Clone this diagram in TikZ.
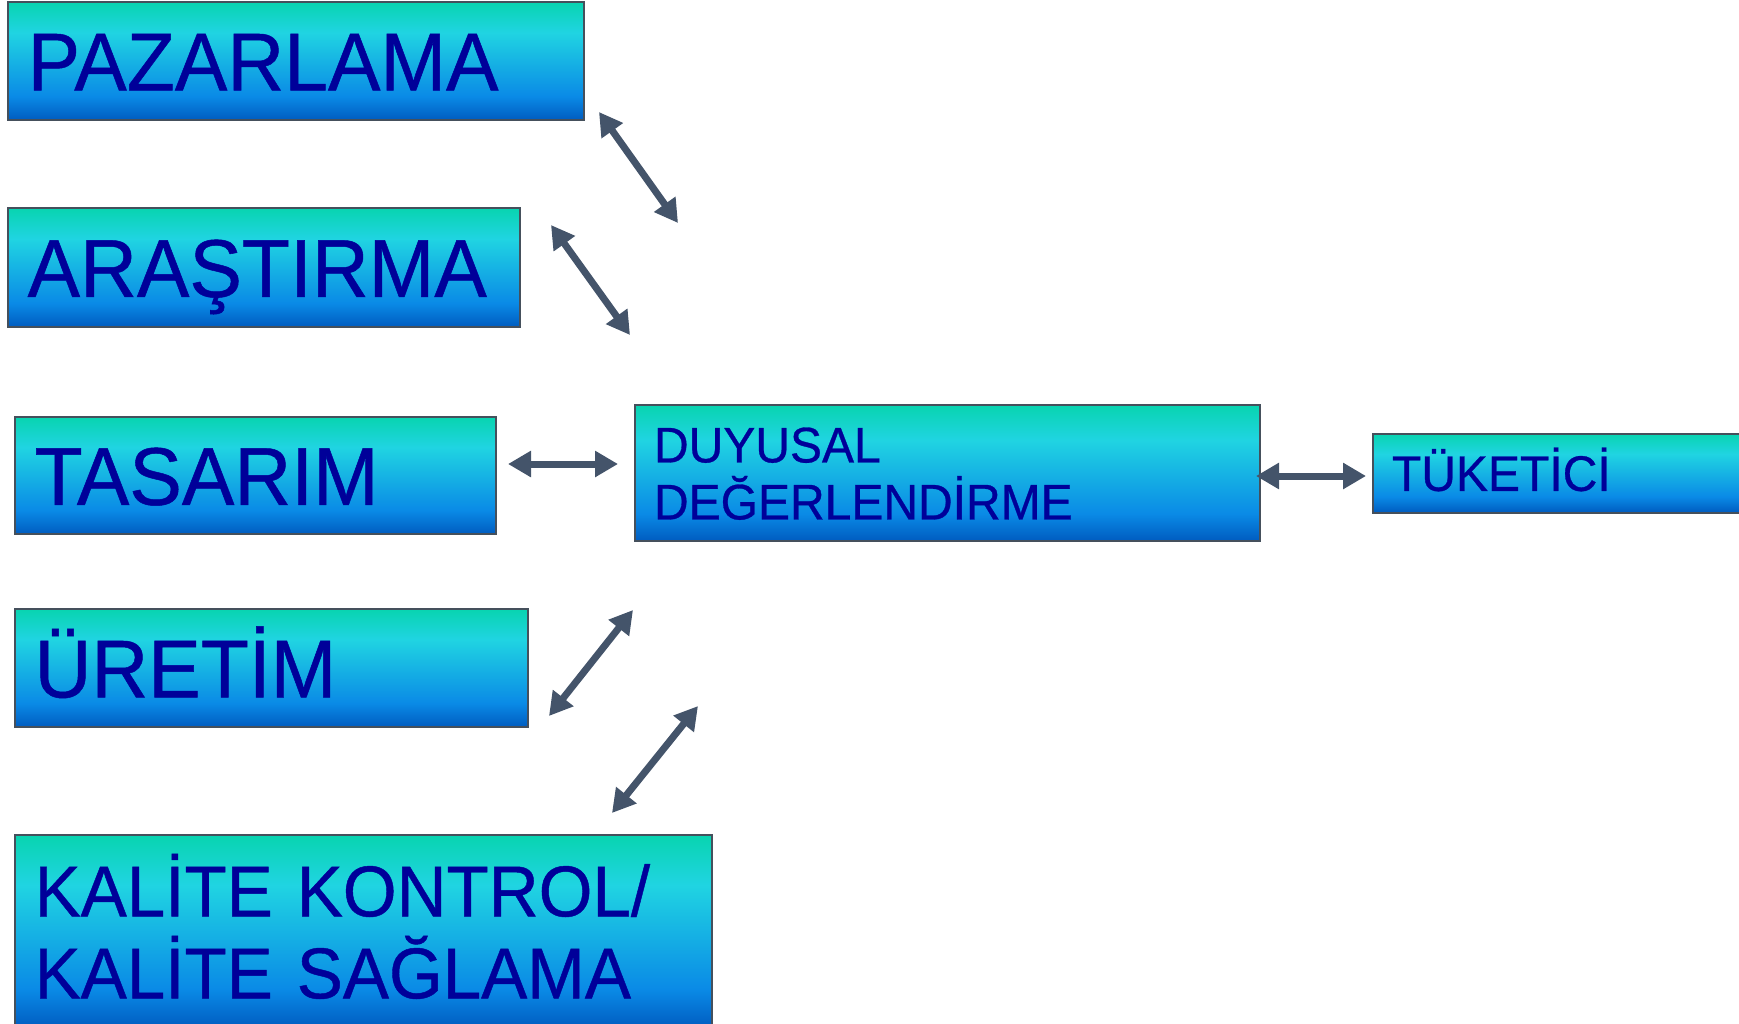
\documentclass[tikz,border=0pt]{standalone}
\usepackage{fontspec}
\usetikzlibrary{arrows.meta,positioning}
\newfontfamily\kutufont[FakeStretch=0.96,FakeBold=0.6]{Liberation Sans}
\definecolor{kutuline}{HTML}{45505C}
\definecolor{kututext}{HTML}{000099}
\definecolor{oklink}{HTML}{44546A}
\definecolor{gtop}{HTML}{08D4B0}
\definecolor{gcyan}{HTML}{20D4E2}
\definecolor{gblue}{HTML}{0A8AE6}
\definecolor{gbot}{HTML}{005CC0}
\pgfdeclareverticalshading{kutugrad}{100bp}{color(0bp)=(gbot); color(25bp)=(gbot);
  color(35bp)=(gblue); color(62bp)=(gcyan); color(75bp)=(gtop); color(100bp)=(gtop)}
\tikzset{
  kutu/.style = {rectangle, draw=kutuline, line width=1pt, shade, shading=kutugrad,
    anchor=north west, align=left, inner ysep=0pt, text=kututext},% ortak kutu
  kutu_b/.style = {kutu, inner xsep=9.8pt, minimum height=59pt,
    font=\kutufont\fontsize{41}{44}\selectfont, text height=29.4pt, text depth=0pt},% buyuk yazi
  kutu_k/.style = {kutu, inner xsep=9.5pt,
    font=\kutufont\fontsize{25}{28.5}\selectfont},% kucuk yazi
  ok/.style = {<->, draw=oklink, line width=3.5pt}% cift yonlu ok
}
\begin{document}
\begin{tikzpicture}[x=0.5pt,y=-0.5pt,>={Triangle[length=11.5pt,width=12.5pt]}]
        \useasboundingbox (0,0) rectangle (1739,1023);
        \clip (0,0) rectangle (1739,1023);
        \node [kutu_b, text width=268.4pt] (paz) at (7,1) {PAZARLAMA};
        \node [kutu_b, text width=236.4pt, minimum height=59.5pt] (ara) at (7,207) {ARAŞTIRMA};
        \node [kutu_b, text width=220.9pt, minimum height=58.5pt] (tas) at (14,416) {TASARIM};
        \node [kutu_b, text width=236.9pt] (ure) at (14,608) {ÜRETİM};
        \node [kutu_b, text width=328.9pt, minimum height=96.5pt,
          font=\kutufont\fontsize{36}{41}\selectfont, text height=25.8pt, text depth=41pt]
          (kal) at (14,834) {KALİTE KONTROL/\\KALİTE SAĞLAMA};
        \node [kutu_k, text width=293.5pt, minimum height=68pt,
          text height=17.9pt, text depth=28.5pt] (duy) at (634,404) {DUYUSAL\\DEĞERLENDİRME};
        \node [kutu_k, text width=166.5pt, minimum height=39.5pt,
          text height=17.9pt, text depth=0pt, right=55.5pt of duy] (tuk) {TÜKETİCİ};
        % ok uclari
        \coordinate (a1) at (599,112);  \coordinate (b1) at (678,223);
        \coordinate (a2) at (551,225);  \coordinate (b2) at (630,335);
        \coordinate (a3) at (508,464);  \coordinate (b3) at (618,464);
        \coordinate (a4) at (1256,476); \coordinate (b4) at (1366,476);
        \coordinate (a5) at (549,716);  \coordinate (b5) at (633,610);
        \coordinate (a6) at (612,813);  \coordinate (b6) at (698,706);
        \draw [ok] (a1) -- (b1);
        \draw [ok] (a2) -- (b2);
        \draw [ok] (a3) -- (b3);
        \draw [ok] (a4) -- (b4);
        \draw [ok] (a5) -- (b5);
        \draw [ok] (a6) -- (b6);
\end{tikzpicture}
\end{document}
